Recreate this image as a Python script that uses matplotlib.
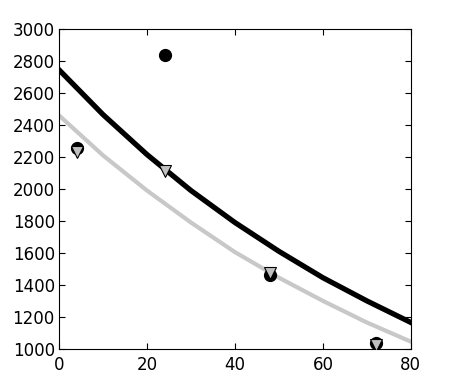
import numpy as np
import matplotlib.pyplot as plt

# measured points
t_obs = [4, 24, 48, 72]
y_circle = [2255, 2838, 1465, 1035]
y_tri = [2232, 2112, 1472, 1025]

# model curves
t_fit = [0, 10, 20, 30, 40, 50, 60, 70, 80]
y_black = [2745, 2465, 2215, 1990, 1790, 1610, 1445, 1300, 1165]
y_gray = [2460, 2210, 1990, 1790, 1605, 1445, 1300, 1165, 1045]

fig = plt.figure(figsize=(4.54, 3.92), dpi=100)
ax = fig.add_axes([0.130, 0.110, 0.775, 0.816])

ax.plot(t_fit, y_black, color='black', lw=3.8, zorder=2)
ax.plot(t_fit, y_gray, color='#c8c8c8', lw=3.0, zorder=2)
ax.plot(t_obs, y_circle, 'o', color='black', ms=8.5, zorder=3)
ax.plot(t_obs, y_tri, 'v', mfc='#c0c0c0', mec='black', mew=0.8, ms=9, zorder=4)

ax.set_xlim(0, 80)
ax.set_ylim(1000, 3000)
ax.set_xticks([0, 20, 40, 60, 80])
ax.set_yticks(np.arange(1000, 3001, 200))
ax.tick_params(direction='in', top=True, right=True, labelsize=12, length=4, width=0.8)
ax.tick_params(axis='x', pad=5)
ax.tick_params(axis='y', pad=3)
for s in ax.spines.values():
    s.set_linewidth(0.8)

fig.savefig('out.png', dpi=100)
